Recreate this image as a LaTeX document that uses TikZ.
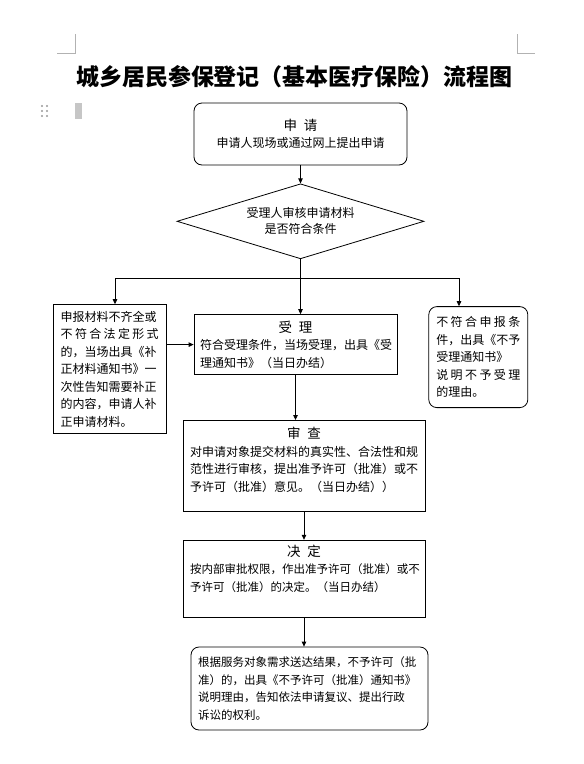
\documentclass[tikz,border=0pt]{standalone}
\usepackage{fontspec}
\setmainfont{Noto Sans CJK SC}
\usetikzlibrary{shapes.geometric,arrows.meta,positioning,calc}

\tikzset{
  box/.style={draw, line width=0.8pt, align=left, inner xsep=6pt, inner ysep=3pt,
    font=\fontsize{12}{17.5}\selectfont},
  rbox/.style={box, rounded corners=8pt},
  decision/.style={draw, diamond, aspect=3.3, line width=0.8pt, minimum width=247pt,
    minimum height=75pt, inner sep=0pt, align=center, font=\fontsize{12}{16}\selectfont},
  link/.style={line width=0.8pt},
}
\newcommand{\boxtitle}[1]{{\centering\fontsize{13.5}{19}\selectfont #1\par}}
\newcommand{\spreadline}[1]{\makebox[\hsize][s]{\spaceskip=0pt plus 1fil #1}}

\begin{document}
\begin{tikzpicture}[x=1pt, y=-1pt, >={Triangle[length=5pt,width=4.5pt]}]
\useasboundingbox (0,0) rectangle (584,764);

% page marks
\draw[gray!60, line width=0.6pt] (57,53) -- (75,53) -- (75,34);
\draw[gray!60, line width=0.6pt] (517,34) -- (517,53) -- (535,53);
\foreach \dx in {42,47}
  \foreach \dy in {106,111,116}
    \fill[gray!80] (\dx,\dy) circle (1.2pt);
\fill[gray!45] (75,103) rectangle (82,119);

% nodes
\node[font=\fontsize{23}{23}\selectfont\bfseries] (title) at (294.5,77)
  {城乡居民参保登记（基本医疗保险）流程图};
\node[rbox, align=center, text width=201pt, minimum height=62pt] (apply) at (300.5,134)
  {\boxtitle{申\enspace 请}申请人现场或通过网上提出申请};
\node[decision, below=18pt of apply] (check) {受理人审核申请材料\\是否符合条件};
\coordinate[below=20pt of check] (split);
\node[box, text width=191pt, minimum height=60pt, below=55pt of check, xshift=-5pt] (accept)
  {\boxtitle{受\enspace 理}符合受理条件，当场受理，出具《受\\理通知书》（当日办结）};
\node[box, inner xsep=7.5pt, text width=98pt, minimum height=129pt,
  left=27pt of accept, yshift=-24.5pt] (lack)
  {申报材料不齐全或\\\spreadline{不 符 合 法 定 形 式}\\的，当场出具《补\\正材料通知书》一\\次性告知需要补正\\的内容，申请人补\\正申请材料。};
\node[rbox, inner xsep=7.5pt, text width=84pt, minimum height=101pt,
  right=31pt of accept, yshift=-12.5pt] (reject)
  {\spreadline{不 符 合 申 报 条}\\件，出具《不予\\受理通知书》\\\spreadline{说 明 不 予 受 理}\\的理由。};
\node[box, inner xsep=7pt, text width=228pt, minimum height=91pt,
  below=45pt of accept, xshift=8.5pt] (review)
  {\boxtitle{审\enspace 查}对申请对象提交材料的真实性、合法性和规\\范性进行审核，提出准予许可（批准）或不\\予许可（批准）意见。（当日办结））\\[-4.5pt]\mbox{}};
\node[box, inner xsep=7pt, text width=228pt, minimum height=77pt,
  font=\fontsize{11.5}{17.5}\selectfont, below=28pt of review] (decide)
  {\boxtitle{决\enspace 定}按内部审批权限，作出准予许可（批准）或不\\予许可（批准）的决定。（当日办结）\\[3.5pt]\mbox{}};
\node[rbox, inner xsep=7pt, text width=223pt, minimum height=83pt,
  font=\fontsize{11.5}{17.5}\selectfont, below=29pt of decide, xshift=5.5pt] (notify)
  {根据服务对象需求送达结果，不予许可（批\\准）的，出具《不予许可（批准）通知书》\\说明理由，告知依法申请复议、提出行政\\诉讼的权利。};

% edges
\coordinate (bl) at (115,278);
\coordinate (br) at (459,278);
\draw[link, ->] (apply) -- (check);
\draw[link] (check.south) -- (split);
\draw[link] (bl) -- (br);
\draw[link, ->] (bl) -- (bl |- lack.north);
\draw[link, ->] (split) -- (split |- accept.north);
\draw[link, ->] (br) -- (br |- reject.north);
\draw[link, ->] (lack.east |- accept.west) -- (accept.west);
\draw[link, ->] (accept) -- (accept |- review.north);
\draw[link, ->] (review) -- (decide);
\draw[link, ->] (decide) -- (decide |- notify.north);

\end{tikzpicture}
\end{document}
